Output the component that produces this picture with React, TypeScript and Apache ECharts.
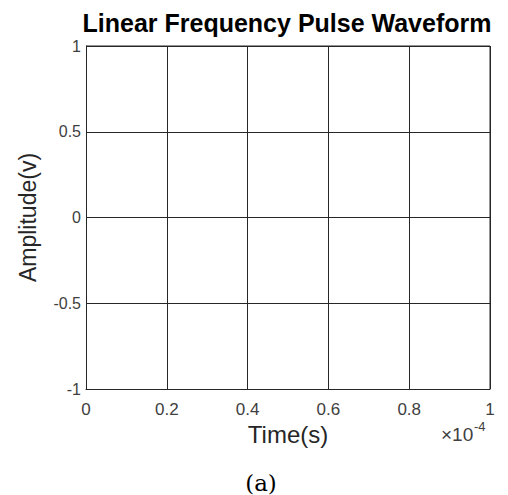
import React, { useEffect, useRef } from "react";
import * as echarts from "echarts";

// Time axis in units of 1e-4 s, amplitude in volts
const xTicks = [0, 0.2, 0.4, 0.6, 0.8, 1];
const yTicks = [-1, -0.5, 0, 0.5, 1];
const timeData: number[] = [];
const amplitudeData: number[] = [];

const titleText = "Linear Frequency Pulse Waveform";
const xName = "Time(s)";
const yName = "Amplitude(v)";
const caption = "(a)";

const SANS = "Arial";

export default function App() {
  const ref = useRef<HTMLDivElement>(null);
  useEffect(() => {
    document.body.style.margin = "0";
    const chart = echarts.init(ref.current!, null, { renderer: "svg" });
    const tickColor = "#404040";
    const lineColor = "#262626";
    chart.setOption({
      animation: false,
      backgroundColor: "#ffffff",
      title: {
        text: titleText,
        left: 287,
        textAlign: "center",
        top: 10,
        padding: 0,
        textStyle: {
          fontFamily: SANS,
          fontWeight: "bold",
          fontSize: 25,
          lineHeight: 25,
          color: "#000",
        },
      },
      grid: { left: 86, top: 46, width: 404, height: 343 },
      xAxis: {
        type: "value",
        min: xTicks[0],
        max: xTicks[xTicks.length - 1],
        interval: 0.2,
        axisLine: { show: true, onZero: false, lineStyle: { color: lineColor, width: 1 } },
        axisTick: { show: false },
        splitLine: { show: true, lineStyle: { color: lineColor, width: 1 } },
        axisLabel: {
          color: tickColor,
          fontFamily: SANS,
          fontSize: 17,
          margin: 12,
          formatter: (v: number) => String(Math.round(v * 10) / 10),
        },
        name: xName,
        nameLocation: "middle",
        nameGap: 31,
        nameTextStyle: { color: "#262626", fontFamily: SANS, fontSize: 24 },
      },
      yAxis: {
        type: "value",
        min: yTicks[0],
        max: yTicks[yTicks.length - 1],
        interval: 0.5,
        axisLine: { show: true, onZero: false, lineStyle: { color: lineColor, width: 1 } },
        axisTick: { show: false },
        splitLine: { show: true, lineStyle: { color: lineColor, width: 1 } },
        axisLabel: {
          color: tickColor,
          fontFamily: SANS,
          fontSize: 16,
          margin: 5,
          formatter: (v: number) => String(v),
        },
        name: yName,
        nameLocation: "middle",
        nameGap: 47,
        nameTextStyle: { color: "#262626", fontFamily: SANS, fontSize: 23 },
      },
      series: [
        {
          type: "line",
          data: timeData.map((t, i) => [t, amplitudeData[i]]),
          showSymbol: false,
          lineStyle: { color: "#0072bd", width: 1 },
        },
      ],
      graphic: [
        // upper and right box edges
        {
          type: "line",
          shape: { x1: 86, y1: 46, x2: 490, y2: 46 },
          style: { stroke: lineColor, lineWidth: 1 },
        },
        {
          type: "line",
          shape: { x1: 490, y1: 46, x2: 490, y2: 389 },
          style: { stroke: lineColor, lineWidth: 1 },
        },
        // axis exponent
        {
          type: "text",
          x: 441,
          y: 425,
          style: {
            text: "×10",
            fontFamily: SANS,
            fontSize: 19,
            fill: tickColor,
          },
        },
        {
          type: "text",
          x: 474,
          y: 420,
          style: {
            text: "-4",
            fontFamily: SANS,
            fontSize: 13,
            fill: tickColor,
          },
        },
        {
          type: "text",
          x: 261,
          y: 483,
          style: {
            text: caption,
            align: "center",
            verticalAlign: "middle",
            fontFamily: "DejaVu Serif",
            fontSize: 23,
            fill: "#000",
          },
        },
      ],
    });
    return () => chart.dispose();
  }, []);
  return <div ref={ref} style={{ width: 508, height: 495 }} />;
}
